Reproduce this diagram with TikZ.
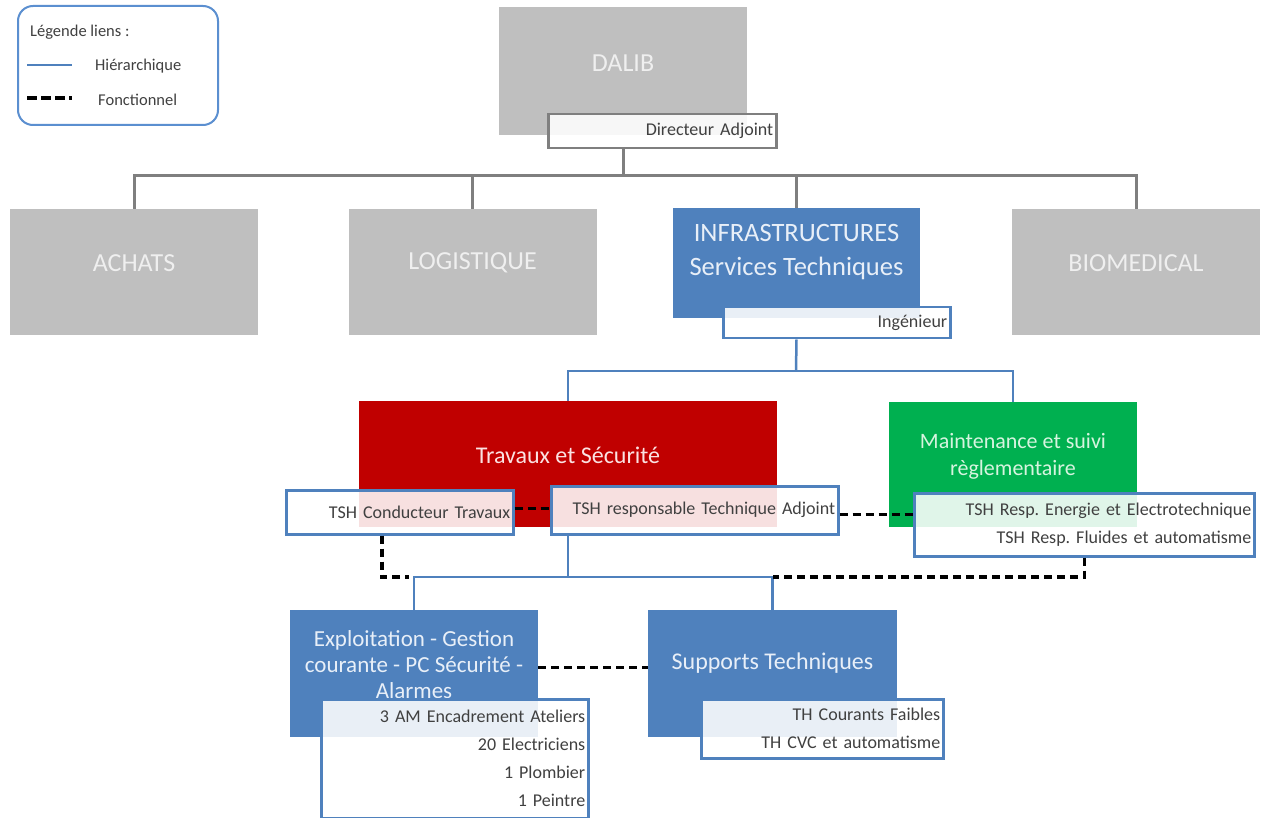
\documentclass[tikz,border=0pt]{standalone}
\usepackage{fontspec}
\setmainfont{Carlito}
\frenchspacing

\definecolor{unitgray}{HTML}{BFBFBF}
\definecolor{unitblue}{HTML}{4F81BD}
\definecolor{unitred}{HTML}{C00000}
\definecolor{unitgreen}{HTML}{00B050}
\definecolor{linkgray}{HTML}{7F7F7F}
\definecolor{roletext}{HTML}{404040}
\definecolor{legendblue}{HTML}{5B8FD0}
\definecolor{graytext}{HTML}{EFEFEF}
\definecolor{bluetext}{HTML}{E8EFF8}
\definecolor{redtext}{HTML}{FBE2E2}
\definecolor{greentext}{HTML}{D6F4DF}

\newcommand\fs[2]{\fontsize{#1}{#2}\selectfont}

\begin{document}
\begin{tikzpicture}[x=1pt,y=-1pt,
  unit/.style={rectangle,inner sep=0pt,minimum width=248pt,minimum height=126pt},
  caption/.style={text=#1,align=center,inner sep=0pt},
  role/.style={draw=#1,line width=2.5pt,fill=white,fill opacity=0.88,text opacity=1,
    text=roletext,anchor=north west,inner xsep=3pt,inner ysep=0pt,align=right,font=\fs{18}{28}},
  legendtext/.style={text=roletext,anchor=west,inner sep=0pt,font=\fs{16.5}{19}},
  hiertop/.style={draw=linkgray,line width=3pt},
  hier/.style={draw=unitblue,line width=2.5pt},
  func/.style={draw=black,line width=3.5pt,dash pattern=on 8pt off 5pt}]

\useasboundingbox[fill=white] (0,0) rectangle (1264,818);

% legende
\node[draw=legendblue,line width=2pt,rounded corners=15pt,minimum width=200pt,
  minimum height=119pt,anchor=north west] (legend) at (17,5) {};
\node[legendtext] (leghead) at (30,32) {Légende liens :};
\draw[hier] (27,65) -- (72,65);
\node[legendtext] (leghier) at (95,66) {Hiérarchique};
\draw[func,dash pattern=on 10pt off 4pt] (27,98) -- (72,98);
\node[legendtext] (legfunc) at (98,100) {Fonctionnel};

% direction et poles
\node[unit,fill=unitgray,minimum height=128pt,
  label={[caption=graytext,yshift=8pt,font=\fs{26}{30}]center:DALIB}] (dalib) at (623,71) {};
\node[unit,fill=unitgray,
  label={[caption=graytext,yshift=9pt,font=\fs{26}{30}]center:ACHATS}] (achats) at (134,272) {};
\node[unit,fill=unitgray,
  label={[caption=graytext,yshift=9pt,font=\fs{26}{30}]center:LOGISTIQUE}] (logist) at (472.5,272) {};
\node[unit,fill=unitblue,minimum width=247pt,minimum height=110pt,
  label={[caption=bluetext,yshift=11pt,font=\fs{26.5}{34}]center:INFRASTRUCTURES\\Services Techniques}] (infra) at (796.5,263) {};
\node[unit,fill=unitgray,
  label={[caption=graytext,yshift=9pt,font=\fs{26}{30}]center:BIOMEDICAL}] (biomed) at (1136,272) {};

% services
\node[unit,fill=unitred,minimum width=418pt,
  label={[caption=redtext,yshift=9pt,font=\fs{24}{28}]center:Travaux et Sécurité}] (travaux) at (568,464) {};
\node[unit,fill=unitgreen,minimum height=125pt,
  label={[caption=greentext,yshift=8pt,font=\fs{22}{27}]center:Maintenance et suivi\\règlementaire}] (maint) at (1013,464.5) {};
\node[unit,fill=unitblue,minimum height=127pt,
  label={[caption=bluetext,yshift=8.5pt,font=\fs{23}{26}]center:Exploitation - Gestion\\courante - PC Sécurité -\\Alarmes}] (exploit) at (414,673.5) {};
\node[unit,fill=unitblue,minimum width=249pt,minimum height=127pt,
  label={[caption=bluetext,yshift=10pt,font=\fs{24}{28}]center:Supports Techniques}] (suppt) at (772.5,673.5) {};

% postes
\node[role=linkgray,text width=222pt,minimum height=34pt] (diradj) at (547,113) {Directeur Adjoint};
\node[role=unitblue,text width=221pt,minimum height=31pt] (inge) at (722,306) {Ingénieur};
\node[role=unitblue,text width=221pt,minimum height=44pt] (conduct) at (285,489) {TSH Conducteur Travaux};
\node[role=unitblue,text width=281pt,minimum height=48pt] (respadj) at (550,485) {TSH responsable Technique Adjoint};
\node[role=unitblue,text width=334pt,minimum height=63pt] (respmaint) at (913,492)
  {TSH Resp. Energie et Electrotechnique\\TSH Resp. Fluides et automatisme};
\node[role=unitblue,text width=261pt,minimum height=119pt] (exlist) at (320,698)
  {3 AM Encadrement Ateliers\\20 Electriciens\\1 Plombier\\1 Peintre};
\node[role=unitblue,text width=236pt,minimum height=59pt] (suplist) at (700,698)
  {TH Courants Faibles\\TH CVC et automatisme};

% liens hierarchiques
\coordinate (hubtop) at (623,176);
\coordinate (hubinfra) at (796,371);
\coordinate (hubtrav) at (568,577);
\draw[hiertop] (dalib.center |- diradj.south) -- (hubtop);
\draw[hiertop] (achats.north) |- (hubtop) -| (biomed.north);
\draw[hiertop] (hubtop) -| (logist.north);
\draw[hiertop] (hubtop) -| (infra.north);
\draw[hier] (infra.center |- inge.south) -- (hubinfra);
\draw[hier] (travaux.north) |- (hubinfra) -| (maint.north);
\draw[hier] (travaux.center |- respadj.south) -- (hubtrav);
\draw[hier] (exploit.north) |- (hubtrav) -| (suppt.north);

% liens fonctionnels
\draw[func] ([yshift=4pt]conduct.east) -- ([yshift=4pt]conduct.east -| respadj.west);
\draw[func] ([yshift=-4pt]respadj.east) -- ([yshift=-4pt]respadj.east -| respmaint.west);
\draw[func] ([xshift=-18pt]conduct.south) |- ([xshift=-5pt]exploit.north |- hubtrav);
\draw[func] (respmaint.south) |- (suppt.north |- hubtrav);
\draw[func] ([yshift=6pt]exploit.east) -- ([yshift=6pt]suppt.west);

\end{tikzpicture}
\end{document}
